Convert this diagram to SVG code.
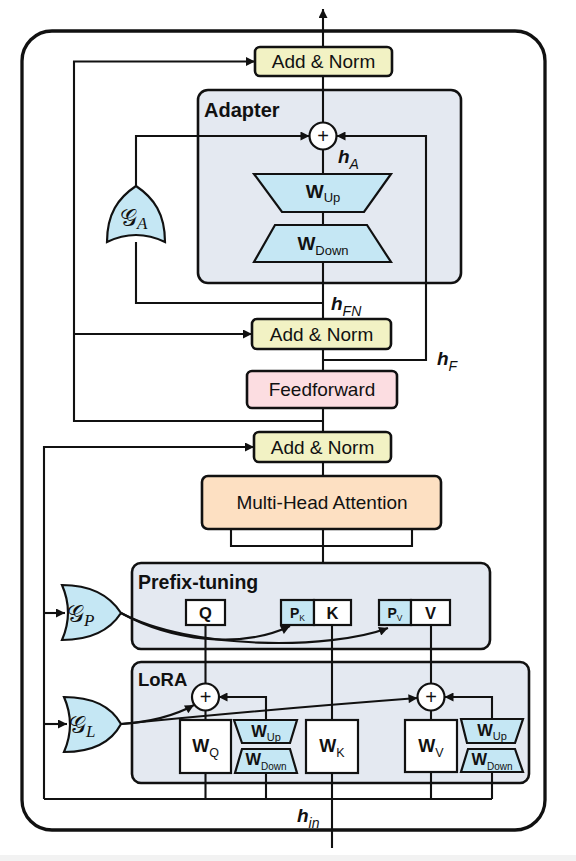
<svg xmlns="http://www.w3.org/2000/svg" width="576" height="861" viewBox="0 0 576 861">
<defs>
<marker id="ah" viewBox="0 0 10 10" refX="10" refY="5" markerWidth="11" markerHeight="9" markerUnits="userSpaceOnUse" orient="auto"><path d="M0,0 L10,5 L0,10 z" fill="#111"/></marker>
</defs>
<style>
.ln{fill:none;stroke:#111;stroke-width:2.1}
.ar{fill:none;stroke:#111;stroke-width:2.1;marker-end:url(#ah)}
.grp{fill:#e4e9f1;stroke:#111;stroke-width:2.6}
.blue{fill:#c5e7f4;stroke:#111;stroke-width:2.2}
.wht{fill:#fff;stroke:#111;stroke-width:2.2}
.an{fill:#f2f2c4;stroke:#111;stroke-width:2.6}
.t{font-family:"Liberation Sans",Arial,sans-serif;fill:#111}
.b{font-weight:bold}
.c{text-anchor:middle}
.hi{font-family:"Liberation Sans",Arial,sans-serif;font-style:italic;font-weight:bold;fill:#111}
.si{font-style:italic;font-weight:normal}
.g{font-family:"DejaVu Serif","Liberation Serif",serif;fill:#111}
.gs{font-family:"Liberation Serif",serif;font-style:italic}
</style>
<rect x="0" y="0" width="576" height="861" fill="#fff"/>
<rect x="0" y="855" width="576" height="6" fill="#f2f2f2"/>
<rect id="frame" x="22" y="31" width="523" height="799" rx="30" fill="none" stroke="#111" stroke-width="3.3"/>

<g id="adapter"><rect x="198" y="90" width="263" height="193" rx="10" class="grp"/><text class="t b" x="204" y="117" font-size="20">Adapter</text></g>
<g id="prefix-tuning"><rect x="132" y="563" width="358" height="86" rx="9" class="grp"/><text class="t b" x="138" y="589" font-size="19.5">Prefix-tuning</text></g>
<g id="lora"><rect x="132" y="662" width="397" height="121" rx="9" class="grp"/><text class="t b" x="138" y="686" font-size="18.5">LoRA</text></g>

<g id="connectors">
<path class="ar" d="M323,47 V9"/>
<path class="ln" d="M323,123 V76 M323,150 V174 M323,212 V225 M323,262 V319 M323,349 V371 M323,408 V432 M323,462 V476 M323,529 V563"/>
<path class="ln" d="M231,529 V546 H412 V529"/>
<path class="ar" d="M136,186 V136 H309.5"/>
<path class="ar" d="M323,360 H426 V136 H336.5"/>
<path class="ln" d="M136,242 V303 H323"/>
<path class="ar" d="M323,421 H74 V61.5 H255"/>
<path class="ar" d="M74,334 H252"/>
<path class="ar" d="M44,799 V447 H254"/>
<path class="ar" d="M44,613 H65"/>
<path class="ar" d="M44,724 H67"/>
<path class="ar" d="M121,613 C170,640 240,650 290,626"/>
<path class="ar" d="M121,613 C190,650 330,650 388,628"/>
<path class="ln" d="M205.5,625 V683.5 M205.5,710.5 V720 M332,625 V720 M431,625 V683.5 M431,710.5 V720"/>
<path class="ar" d="M266,720 V697 H218.5"/>
<path class="ar" d="M492,719 V697 H444.5"/>
<path class="ar" d="M121,724 C150,722 176,715 194,705"/>
<path class="ar" d="M121,724 Q260,710 417.5,698"/>
<path class="ln" d="M44,799 H492 M205.5,773 V799 M266,773 V799 M431,772 V799 M492,772 V799 M332,773 V848"/>
</g>

<g id="add-norm-top"><rect x="255" y="47" width="137" height="29" rx="5" class="an"/><text class="t c" x="323.5" y="68" font-size="19">Add &amp; Norm</text></g>
<g id="sum-adapter"><circle cx="323" cy="136" r="13.5" fill="#fff" stroke="#111" stroke-width="2.2"/><text class="t c" x="323" y="143" font-size="20">+</text></g>
<g id="w-up-adapter"><polygon points="254,174 391,174 364,212 282,212" class="blue"/><text class="t c" x="323" y="198" font-size="19"><tspan class="b">W</tspan><tspan font-size="13" dy="4">Up</tspan></text></g>
<g id="w-down-adapter"><polygon points="275,225 367,225 391,262 254,262" class="blue"/><text class="t c" x="323" y="250" font-size="19"><tspan class="b">W</tspan><tspan font-size="13" dy="5">Down</tspan></text></g>
<g id="gate-a"><path d="M107,242 C107,214 118,198 136,186 C154,198 165,214 165,242 Q136,228 107,242 Z" class="blue"/><text class="g" x="120" y="226" font-size="24">𝒢<tspan class="gs" font-size="17" dy="3">A</tspan></text></g>
<g id="h-a"><text class="hi" x="338" y="163" font-size="19">h<tspan class="si" font-size="14" dy="6">A</tspan></text></g>
<g id="h-fn"><text class="hi" x="331" y="310" font-size="19">h<tspan class="si" font-size="14" dy="6">FN</tspan></text></g>
<g id="add-norm-mid"><rect x="252" y="319" width="139" height="30" rx="5" class="an"/><text class="t c" x="321.5" y="341" font-size="19">Add &amp; Norm</text></g>
<g id="h-f"><text class="hi" x="437" y="365" font-size="19">h<tspan class="si" font-size="14" dy="6">F</tspan></text></g>
<g id="feedforward"><rect x="247" y="371" width="150" height="37" rx="5" fill="#fcdde1" stroke="#111" stroke-width="2.6"/><text class="t c" x="322" y="396" font-size="19">Feedforward</text></g>
<g id="add-norm-low"><rect x="254" y="432" width="137" height="30" rx="5" class="an"/><text class="t c" x="322.5" y="453.5" font-size="19">Add &amp; Norm</text></g>
<g id="mha"><rect x="202" y="476" width="239" height="53" rx="6" fill="#fde0c2" stroke="#111" stroke-width="2.6"/><text class="t c" x="322" y="509" font-size="19">Multi-Head Attention</text></g>

<g id="q"><rect x="186" y="600" width="39" height="25" class="wht"/><text class="t b c" x="205.5" y="618.5" font-size="16.5">Q</text></g>
<g id="pk-k"><rect x="281" y="600" width="33" height="25" class="blue"/><rect x="314" y="600" width="37" height="25" class="wht"/><text class="t c" x="297.5" y="618" font-size="14"><tspan class="b">P</tspan><tspan font-size="8.5" dy="3">K</tspan></text><text class="t b c" x="332.5" y="618.5" font-size="16.5">K</text></g>
<g id="pv-v"><rect x="379" y="600" width="32" height="25" class="blue"/><rect x="411" y="600" width="39" height="25" class="wht"/><text class="t c" x="395" y="618" font-size="14"><tspan class="b">P</tspan><tspan font-size="8.5" dy="3">V</tspan></text><text class="t b c" x="430.5" y="618.5" font-size="16.5">V</text></g>
<g id="gate-p"><path d="M62,585 C92,585 110,596 121,613 C110,630 92,640 62,640 Q74,612.5 62,585 Z" class="blue"/><text class="g" x="67" y="622" font-size="24">𝒢<tspan class="gs" font-size="17" dy="4">P</tspan></text></g>
<g id="gate-l"><path d="M64,697 C94,697 112,708 121,724 C112,741 94,752 64,752 Q76,724.5 64,697 Z" class="blue"/><text class="g" x="69" y="733" font-size="24">𝒢<tspan class="gs" font-size="17" dy="4">L</tspan></text></g>

<g id="sum-q"><circle cx="205.5" cy="697" r="13.5" fill="#fff" stroke="#111" stroke-width="2.2"/><text class="t c" x="205.5" y="704" font-size="20">+</text></g>
<g id="sum-v"><circle cx="431" cy="697" r="13.5" fill="#fff" stroke="#111" stroke-width="2.2"/><text class="t c" x="431" y="704" font-size="20">+</text></g>
<g id="w-q"><rect x="180" y="720" width="51" height="53" class="wht"/><text class="t c" x="205.5" y="752" font-size="18"><tspan class="b">W</tspan><tspan font-size="12.5" dy="5">Q</tspan></text></g>
<g id="w-k"><rect x="306" y="720" width="52" height="53" class="wht"/><text class="t c" x="332" y="752" font-size="18"><tspan class="b">W</tspan><tspan font-size="12.5" dy="5">K</tspan></text></g>
<g id="w-v"><rect x="405" y="720" width="52" height="52" class="wht"/><text class="t c" x="431" y="752" font-size="18"><tspan class="b">W</tspan><tspan font-size="12.5" dy="5">V</tspan></text></g>
<g id="w-up-q"><polygon points="234,720 297,720 290,743 242,743" class="blue"/><text class="t c" x="266" y="737" font-size="16.5"><tspan class="b">W</tspan><tspan font-size="11" dy="4">Up</tspan></text></g>
<g id="w-down-q"><polygon points="242,749 290,749 297,773 235,773" class="blue"/><text class="t c" x="266" y="765" font-size="16.5"><tspan class="b">W</tspan><tspan font-size="10" dy="5">Down</tspan></text></g>
<g id="w-up-v"><polygon points="461,719 523,719 515,743 467,743" class="blue"/><text class="t c" x="492" y="736" font-size="16.5"><tspan class="b">W</tspan><tspan font-size="11" dy="4">Up</tspan></text></g>
<g id="w-down-v"><polygon points="468,749 515,749 523,772 461,772" class="blue"/><text class="t c" x="492" y="765" font-size="16.5"><tspan class="b">W</tspan><tspan font-size="10" dy="5">Down</tspan></text></g>
<g id="h-in"><text class="hi" x="297" y="822" font-size="19">h<tspan class="si" font-size="14" dy="6">in</tspan></text></g>
</svg>
